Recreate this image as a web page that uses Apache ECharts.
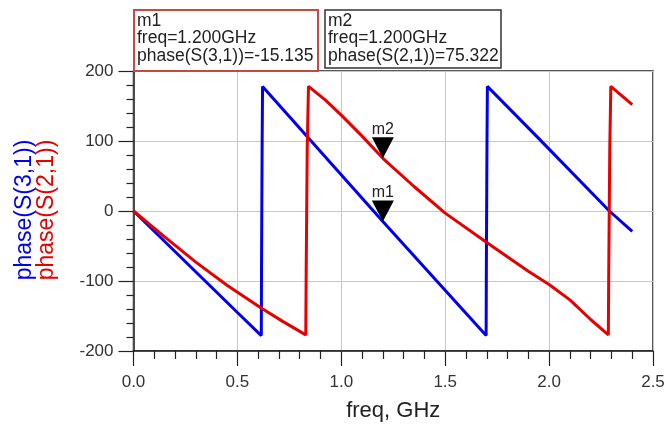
<!DOCTYPE html>
<html>
<head>
<meta charset="utf-8">
<script src="https://cdn.jsdelivr.net/npm/echarts@6/dist/echarts.min.js"></script>
<style>
  html, body { margin: 0; padding: 0; background: #fff; }
  #main { width: 670px; height: 438px; }
</style>
</head>
<body>
<div id="main"></div>
<script>
// phase(S(3,1)) - blue trace
var freqS31  = [0, 0.5, 0.615, 0.616, 0.619, 0.621, 1.2, 1.697, 1.698, 1.701, 1.703, 1.952, 2.29, 2.4];
var phaseS31 = [0, -145, -178, -86, 93, 178, -15.135, -178, -86, 93, 178, 103, 0, -29];

// phase(S(2,1)) - red trace
var freqS21  = [0, 0.15, 0.3, 0.45, 0.616, 0.72, 0.829, 0.831, 0.836, 0.842, 0.921, 1.0, 1.1, 1.2, 1.35, 1.5, 1.7, 1.9, 2.0, 2.1, 2.2, 2.285, 2.287, 2.292, 2.297, 2.4];
var phaseS21 = [0, -37, -73, -106, -139, -158, -177, -88, 90, 178, 159, 137, 107, 75.322, 35, -3, -45, -86, -105, -127, -155, -177, -88, 90, 178, 152];

// markers
var markerNames  = ['m1', 'm2'];
var markerTraces = ['phase(S(3,1))', 'phase(S(2,1))'];
var markerFreq   = [1.2, 1.2];
var markerValue  = [-15.135, 75.322];

var xTicks = [0, 0.5, 1.0, 1.5, 2.0, 2.5];
var yTicks = [-200, -100, 0, 100, 200];

function pairs(xs, ys) {
    var out = [];
    for (var i = 0; i < xs.length; i++) out.push([xs[i], ys[i]]);
    return out;
}

function markerText(i) {
    return markerNames[i] + '\nfreq=' + markerFreq[i].toFixed(3) + 'GHz\n' +
        markerTraces[i] + '=' + markerValue[i].toFixed(3);
}

var FONT = 'Liberation Sans, Arial, sans-serif';
var BLUE = '#0000ee';
var RED = '#e60000';

var myChart = echarts.init(document.getElementById('main'), null, {renderer: 'canvas'});

var markSymbol = 'path://M0,0L22,0L11,21Z';
function markPoint(i) {
    return {
        symbol: markSymbol,
        symbolSize: [22, 21],
        symbolOffset: [0, '-50%'],
        itemStyle: {color: '#000'},
        label: {
            show: true, position: 'top', distance: 0,
            formatter: '{b}', fontSize: 16, fontFamily: FONT, color: '#222'
        },
        data: [{name: markerNames[i], coord: [markerFreq[i], markerValue[i]]}]
    };
}

var option = {
    animation: false,
    backgroundColor: '#fff',
    grid: {
        left: 133.5, right: 17, top: 71, bottom: 87,
        show: true, borderColor: '#222', borderWidth: 1.5, backgroundColor: '#fff'
    },
    xAxis: {
        type: 'value',
        min: xTicks[0], max: xTicks[xTicks.length - 1], interval: 0.5,
        name: 'freq, GHz',
        nameLocation: 'middle',
        nameGap: 49,
        nameTextStyle: {fontSize: 22, fontFamily: FONT, color: '#222'},
        axisLine: {onZero: false, lineStyle: {color: '#222', width: 1.5}},
        axisTick: {length: 15, lineStyle: {color: '#222', width: 1.2}},
        minorTick: {show: true, splitNumber: 5, length: 8, lineStyle: {color: '#222', width: 1.2}},
        axisLabel: {
            fontSize: 17, fontFamily: FONT, color: '#333', margin: 23,
            formatter: function (v) { return v.toFixed(1); }
        },
        splitLine: {show: true, lineStyle: {color: '#c8c8c8', width: 1}}
    },
    yAxis: {
        type: 'value',
        min: yTicks[0], max: yTicks[yTicks.length - 1], interval: 100,
        axisLine: {show: true, onZero: false, lineStyle: {color: '#222', width: 1.5}},
        axisTick: {show: true, length: 15, lineStyle: {color: '#222', width: 1.2}},
        minorTick: {show: true, splitNumber: 5, length: 7, lineStyle: {color: '#222', width: 1.2}},
        axisLabel: {fontSize: 17, fontFamily: FONT, color: '#333', margin: 20},
        splitLine: {show: true, lineStyle: {color: '#c8c8c8', width: 1}}
    },
    graphic: [
        {
            type: 'text', x: 25, y: 210, rotation: Math.PI / 2,
            style: {text: markerTraces[0], fill: BLUE, font: '23px ' + FONT, align: 'center', verticalAlign: 'middle'}
        },
        {
            type: 'text', x: 47, y: 210, rotation: Math.PI / 2,
            style: {text: markerTraces[1], fill: RED, font: '23px ' + FONT, align: 'center', verticalAlign: 'middle'}
        },
        {
            type: 'rect', shape: {x: 134, y: 10, width: 184, height: 61},
            style: {fill: '#fff', stroke: '#c84848', lineWidth: 2}, z: 10
        },
        {
            type: 'text', x: 137, y: 12, z: 11,
            style: {text: markerText(0), fill: '#222', font: '17.5px ' + FONT, lineHeight: 17.5}
        },
        {
            type: 'rect', shape: {x: 325, y: 10, width: 176, height: 58},
            style: {fill: '#fff', stroke: '#333', lineWidth: 1.5}, z: 10
        },
        {
            type: 'text', x: 328, y: 12, z: 11,
            style: {text: markerText(1), fill: '#222', font: '17.5px ' + FONT, lineHeight: 17.5}
        }
    ],
    series: [
        {
            name: markerTraces[0],
            type: 'line',
            data: pairs(freqS31, phaseS31),
            showSymbol: false,
            lineStyle: {color: BLUE, width: 3},
            markPoint: markPoint(0),
            z: 2
        },
        {
            name: markerTraces[1],
            type: 'line',
            data: pairs(freqS21, phaseS21),
            showSymbol: false,
            lineStyle: {color: RED, width: 3},
            markPoint: markPoint(1),
            z: 3
        }
    ]
};

myChart.setOption(option);
</script>
</body>
</html>
